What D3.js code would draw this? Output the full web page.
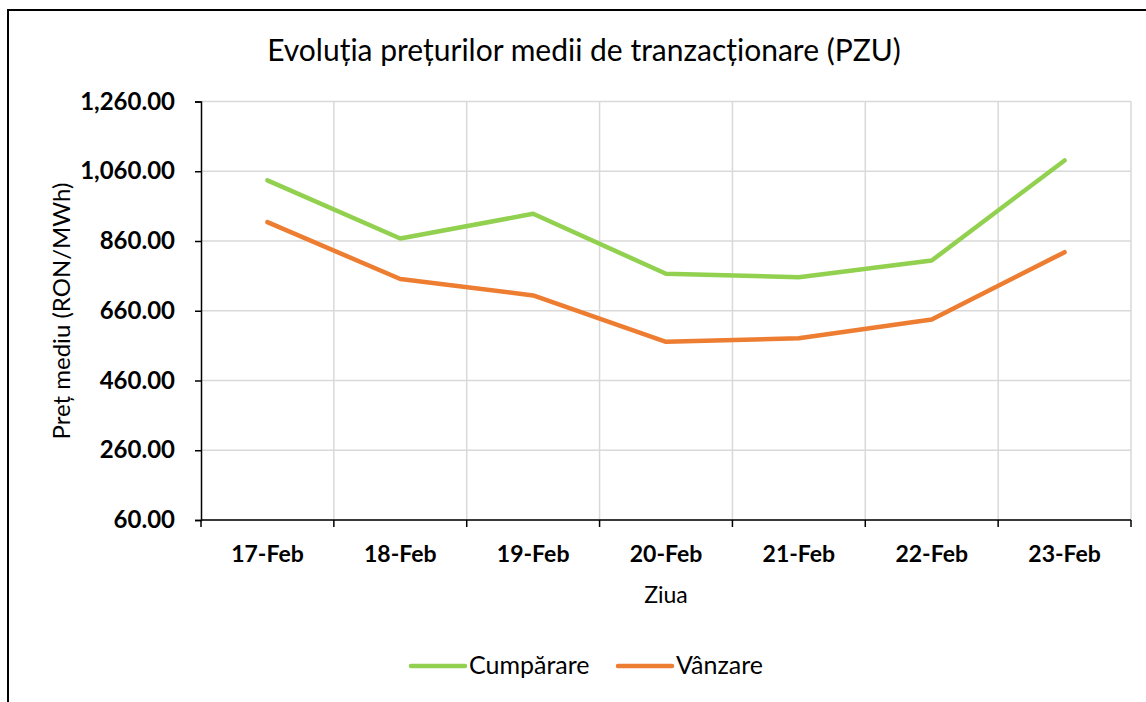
<!DOCTYPE html>
<html>
<head>
<meta charset="utf-8">
<script src="https://cdn.jsdelivr.net/npm/d3@7"></script>
<style>
  html, body { margin: 0; padding: 0; background: #fff; overflow: hidden; }
  svg { display: block; }
  text { font-family: Lato, "Open Sans", sans-serif; fill: #000; }
</style>
</head>
<body>
<svg></svg>
<script>
const days = ['17-Feb', '18-Feb', '19-Feb', '20-Feb', '21-Feb', '22-Feb', '23-Feb']
const cumparare = [1034, 867, 938, 766, 756, 804, 1091]
const vanzare = [914, 751, 704, 571, 581, 635, 828]
const yTicks = [60, 260, 460, 660, 860, 1060, 1260]

const width = 1146
const height = 702

const svg = d3.select('svg').attr('width', width).attr('height', height)

// chart border (only left and top visible)
svg.append('path')
  .attr('d', `M8,${height} L8,10 L${width},10`)
  .attr('fill', 'none')
  .attr('stroke', '#000')
  .attr('stroke-width', 2)

const margin = { top: 101.5, left: 201 }
const innerWidth = 930
const innerHeight = 418.5

const g = svg.append('g')
  .attr('transform', `translate(${margin.left},${margin.top})`)

const xScale = d3.scaleBand().domain(days).range([0, innerWidth])
const yScale = d3.scaleLinear().domain([60, 1260]).range([innerHeight, 0])

// gridlines
g.append('g').selectAll('line').data(yTicks).enter().append('line')
  .attr('x1', 0).attr('x2', innerWidth)
  .attr('y1', d => yScale(d)).attr('y2', d => yScale(d))
  .attr('stroke', '#d9d9d9').attr('stroke-width', 1.5)

const vlines = days.map(d => xScale(d) + xScale.bandwidth())
g.append('g').selectAll('line').data(vlines).enter().append('line')
  .attr('x1', d => d).attr('x2', d => d)
  .attr('y1', 0).attr('y2', innerHeight)
  .attr('stroke', '#d9d9d9').attr('stroke-width', 1.5)

// axes
const yAxis = d3.axisLeft(yScale).tickValues(yTicks).tickSize(6).tickPadding(8)
  .tickFormat(d3.format(',.2f'))
const yAxisG = g.append('g').call(yAxis)
yAxisG.select('.domain').attr('stroke', '#000').attr('stroke-width', 1.5)
yAxisG.selectAll('.tick line').attr('stroke', '#000').attr('stroke-width', 1.5)
yAxisG.selectAll('text').attr('font-size', 24).attr('font-weight', 'bold')
  .attr('x', -26)

const xAxis = d3.axisBottom(xScale).tickSize(0).tickPadding(26)
const xAxisG = g.append('g')
  .attr('transform', `translate(0,${innerHeight})`)
  .call(xAxis)
xAxisG.select('.domain').remove()
xAxisG.append('line').attr('x1', 0).attr('x2', innerWidth).attr('stroke', '#000').attr('stroke-width', 1.5)
xAxisG.selectAll('line.tk').data([0].concat(vlines)).enter().append('line')
  .attr('class', 'tk')
  .attr('x1', d => d).attr('x2', d => d).attr('y1', 0).attr('y2', 7)
  .attr('stroke', '#000').attr('stroke-width', 1.5)
xAxisG.selectAll('.tick text').attr('font-size', 23).attr('font-weight', 'bold')

// lines
const line = d3.line()
  .x((d, i) => xScale(days[i]) + xScale.bandwidth() / 2)
  .y(d => yScale(d))

const series = [
  { name: 'Cumpărare', values: cumparare, color: '#92d050' },
  { name: 'Vânzare', values: vanzare, color: '#ed7d31' }
]

g.selectAll('path.series').data(series).enter().append('path')
  .attr('class', 'series')
  .attr('d', d => line(d.values))
  .attr('fill', 'none')
  .attr('stroke', d => d.color)
  .attr('stroke-width', 4.5)
  .attr('stroke-linecap', 'round')
  .attr('stroke-linejoin', 'round')

// titles
svg.append('text')
  .attr('x', 584).attr('y', 61)
  .attr('text-anchor', 'middle')
  .attr('font-size', 30)
  .text('Evoluția prețurilor medii de tranzacționare (PZU)')

svg.append('text')
  .attr('x', 666).attr('y', 603)
  .attr('text-anchor', 'middle')
  .attr('font-size', 23)
  .text('Ziua')

svg.append('text')
  .attr('transform', 'translate(70,311) rotate(-90)')
  .attr('text-anchor', 'middle')
  .attr('font-size', 24)
  .text('Preț mediu (RON/MWh)')

// legend
const legendX = [411, 618]
const legend = svg.selectAll('g.legend').data(series).enter().append('g')
  .attr('class', 'legend')
  .attr('transform', (d, i) => `translate(${legendX[i]},666)`)
legend.append('line')
  .attr('x1', 0).attr('x2', 54)
  .attr('stroke', d => d.color).attr('stroke-width', 4.5).attr('stroke-linecap', 'round')
legend.append('text')
  .attr('x', 58).attr('y', 8)
  .attr('font-size', 25)
  .text(d => d.name)
</script>
</body>
</html>
